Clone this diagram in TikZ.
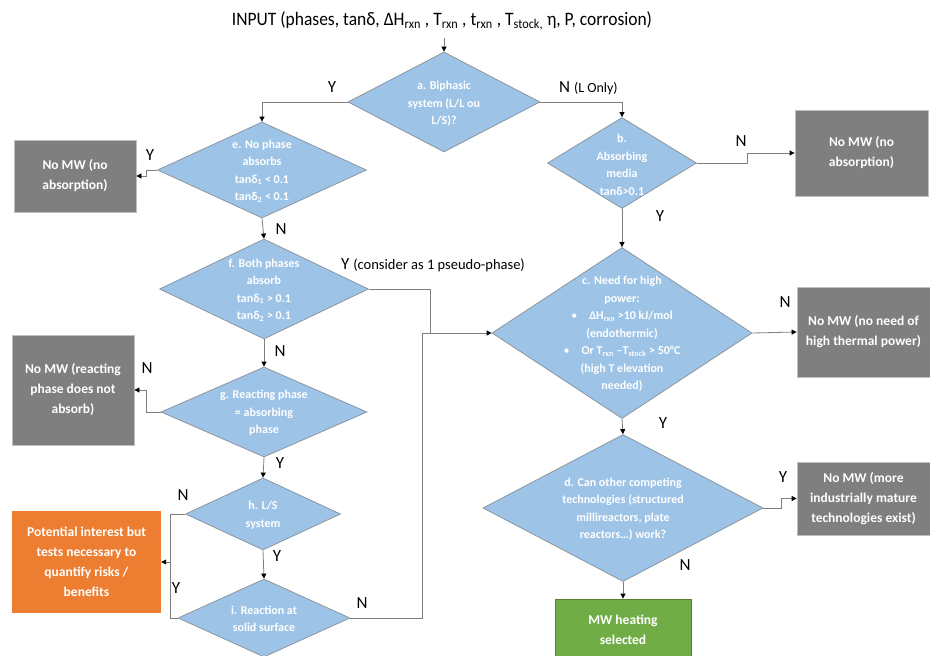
\documentclass[tikz,border=0pt]{standalone}
\usepackage{fontspec}
\setmainfont{Carlito}
\newfontfamily\narrowfont[FakeStretch=0.92]{Carlito}
\usetikzlibrary{shapes.geometric,arrows.meta}
\definecolor{dfill}{HTML}{9DC3E6}
\definecolor{dborder}{HTML}{8C96A0}
\definecolor{boxgray}{HTML}{7F7F7F}
\definecolor{boxborder}{HTML}{BFBFBF}
\definecolor{orfill}{HTML}{ED7D31}
\definecolor{grfill}{HTML}{70AD47}
\definecolor{grborder}{HTML}{548235}
\definecolor{linegray}{HTML}{7F7F7F}
\newcommand{\sbs}[1]{\textsubscript{#1}}
\begin{document}
\begin{tikzpicture}[x=1pt,y=-1pt,
  dia/.style={diamond, draw=dborder, fill=dfill, line width=0.8pt, inner sep=0pt},
  dtext/.style={text=white, font=\bfseries\fontsize{12}{17.5}\selectfont, align=center, inner sep=0pt},
  gbox/.style={rectangle, fill=boxgray, draw=boxborder, line width=0.8pt, text=white, font=\bfseries\fontsize{13.5}{20}\selectfont, align=center},
  obox/.style={rectangle, fill=orfill, text=white, font=\bfseries\fontsize{13.5}{20}\selectfont, align=center},
  grbox/.style={rectangle, fill=grfill, draw=grborder, line width=0.8pt, text=white, font=\bfseries\fontsize{13.5}{20}\selectfont, align=center},
  conn/.style={draw=linegray, line width=0.8pt, -{Triangle[length=5pt,width=5pt,black]}},
  plain/.style={draw=linegray, line width=0.8pt},
  lab/.style={font=\fontsize{17}{17}\selectfont, inner sep=0pt}
]
\useasboundingbox (0,0) rectangle (930,656);
\fill[white] (0,0) rectangle (930,656);

% title
\node[font=\narrowfont\fontsize{19}{22}\selectfont, inner sep=1pt] (title) at (442,21)
  {INPUT (phases, tanδ, ΔH\sbs{rxn} , T\sbs{rxn} , t\sbs{rxn} , T\sbs{stock,} η, P, corrosion)};
\coordinate (tb) at (444,38);

% diamonds
\node[dia, minimum width=192pt, minimum height=100pt] (a) at (444,102) {};
\node[dtext] (at) at (444,104) {a. Biphasic\\system (L/L ou\\L/S)?};
\node[dia, minimum width=149pt, minimum height=91pt] (b) at (622,163) {};
\node[dtext] (bt) at (622,165) {b.\\Absorbing\\media\\tanδ>0.1};
\node[dia, minimum width=260pt, minimum height=171pt] (c) at (622,333) {};
\node[dtext] (ct) at (622,334) {c. Need for high\\power:\\
  {\mdseries\textbullet}\quad ΔH\sbs{rxn} >10 kJ/mol\\(endothermic)\\
  {\mdseries\textbullet}\quad Or T\sbs{rxn} –T\sbs{stock} > 50°C\\(high T elevation\\needed)};
\node[dia, minimum width=280pt, minimum height=147pt] (d) at (623,508) {};
\node[dtext] (dt) at (623,509) {d. Can other competing\\technologies (structured\\millireactors, plate\\reactors…) work?};
\node[dia, minimum width=209pt, minimum height=96pt] (e) at (262,170) {};
\node[dtext] (et) at (262,171) {e. No phase\\absorbs\\tanδ\sbs{1} < 0.1\\tanδ\sbs{2} < 0.1};
\node[dia, minimum width=209pt, minimum height=100pt] (f) at (264,289) {};
\node[dtext] (ft) at (264,290) {f. Both phases\\absorb\\tanδ\sbs{1} > 0.1\\tanδ\sbs{2} > 0.1};
\node[dia, minimum width=206pt, minimum height=90pt] (g) at (264,412) {};
\node[dtext] (gt) at (264,413) {g. Reacting phase\\= absorbing\\phase};
\node[dia, minimum width=155pt, minimum height=72pt] (h) at (263,514) {};
\node[dtext] (ht) at (263,515) {h. L/S\\system};
\node[dia, minimum width=172pt, minimum height=78pt] (i) at (264,618) {};
\node[dtext] (it) at (264,619) {i. Reaction at\\solid surface};

% boxes
\node[gbox, minimum width=122pt, minimum height=72pt] (nm1) at (75,176) {No MW (no\\absorption)};
\node[gbox, minimum width=133pt, minimum height=86pt] (nm2) at (861.5,153) {No MW (no\\absorption)};
\node[gbox, minimum width=133pt, minimum height=90pt] (nm3) at (863.5,332) {No MW (no need of\\high thermal power)};
\node[gbox, minimum width=133pt, minimum height=73pt] (nm4) at (863.5,498.5) {No MW (more\\industrially mature\\technologies exist)};
\node[gbox, minimum width=122pt, minimum height=110pt] (nm5) at (73,390) {No MW (reacting\\phase does not\\absorb)};
\node[obox, minimum width=149pt, minimum height=102pt] (pot) at (86.5,562) {Potential interest but\\tests necessary to\\quantify risks /\\benefits};
\node[grbox, minimum width=136pt, minimum height=62pt] (mw) at (623,630) {MW heating\\selected};

% junctions
\coordinate (jf) at (430,333);
\coordinate (jo) at (170,562);

% connectors
\draw[conn] (tb) -- (a.north);
\draw[conn] (a.west) -| (e.north);
\draw[conn] (a.east) -| (b.north);
\draw[conn] (e.west) -- ++(-11,0) |- (nm1.east);
\draw[conn] (e.south) -- (f.north);
\draw[conn] (b.east) -- ++(50,0) |- (nm2.west);
\draw[conn] (b.south) -- (c.north);
\draw[plain] (f.east) -| (jf);
\draw[conn] (i.east) -| (422,333) -- (c.west);
\draw[conn] (c.east) -- (nm3.west);
\draw[conn] (c.south) -- (d.north);
\draw[conn] (d.east) -- ++(18,0) |- (nm4.west);
\draw[conn] (d.south) -- (mw.north);
\draw[conn] (f.south) -- (g.north);
\draw[conn] (g.west) -- ++(-14,0) |- (nm5.east);
\draw[conn] (g.south) -- (h.north);
\draw[conn] (h.west) -| (jo) -- (pot.east);
\draw[plain] (i.west) -| (jo);
\draw[conn] (h.south) -- (i.north);

% labels
\node[lab] (l1) at (332,87) {Y};
\node[lab, anchor=west] (l2) at (559,88) {N {\fontsize{14}{14}\selectfont (L Only)}};
\node[lab] (l3) at (150,155) {Y};
\node[lab] (l4) at (281,229) {N};
\node[lab, anchor=west] (l5) at (341,265) {Y {\fontsize{14.5}{14.5}\selectfont (consider as 1 pseudo-phase)}};
\node[lab] (l6) at (741,141) {N};
\node[lab] (l7) at (660,216) {Y};
\node[lab] (l8) at (785,302) {N};
\node[lab] (l9) at (663,423) {Y};
\node[lab] (l10) at (783,477) {Y};
\node[lab] (l11) at (685,565) {N};
\node[lab] (l12) at (280,351) {N};
\node[lab] (l13) at (147,368) {N};
\node[lab] (l14) at (280,463) {Y};
\node[lab] (l15) at (183,495) {N};
\node[lab] (l16) at (277,556) {Y};
\node[lab] (l17) at (176,588) {Y};
\node[lab] (l18) at (362,603) {N};
\end{tikzpicture}
\end{document}
